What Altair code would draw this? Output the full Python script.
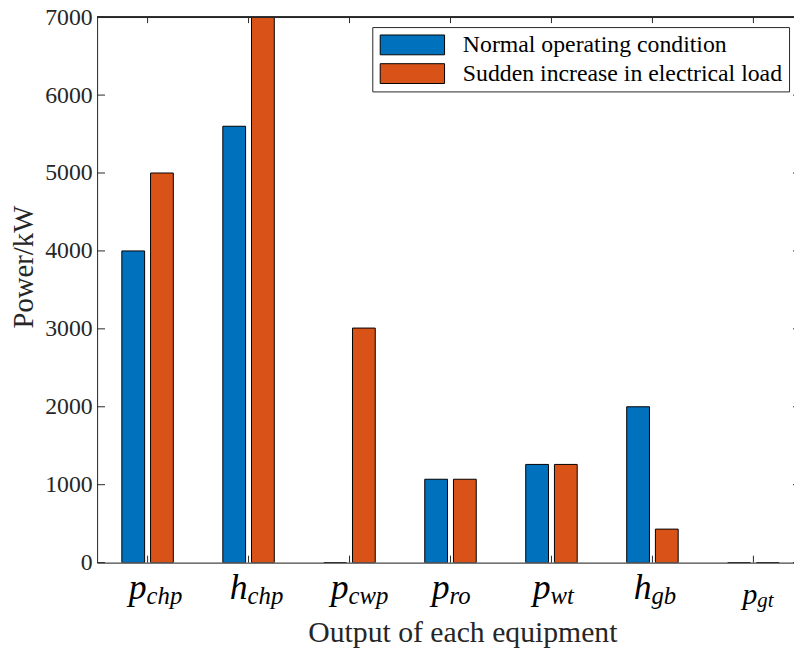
import altair as alt
import pandas as pd

categories = ["p_chp", "h_chp", "p_cwp", "p_ro", "p_wt", "h_gb", "p_gt"]
main_letters = ["p", "h", "p", "p", "p", "h", "p"]
subscripts = ["chp", "chp", "cwp", "ro", "wt", "gb", "gt"]
series_names = ["Normal operating condition", "Sudden increase in electrical load"]
normal = [4000, 5600, 0, 1070, 1260, 2000, 0]
sudden = [5000, 7000, 3010, 1070, 1260, 430, 0]
y_ticks = [0, 1000, 2000, 3000, 4000, 5000, 6000, 7000]
colors = ["#0072BD", "#D95319"]

FONT = "Liberation Serif"
AX = "#262626"
W, H = 704, 551
FULL_W = 711

rows = []
for c, a, b in zip(categories, normal, sudden):
    rows.append({"category": c, "series": series_names[0], "value": a})
    rows.append({"category": c, "series": series_names[1], "value": b})
df = pd.DataFrame(rows)
lab = pd.DataFrame({"category": categories, "main": main_letters, "sub": subscripts})
yt = pd.DataFrame({"value": y_ticks})
xt = pd.DataFrame({"category": categories})

xscale = alt.Scale(domain=categories, range=[0, 714], paddingInner=0, paddingOuter=0)
yscale = alt.Scale(domain=[0, 7000], nice=False, zero=True)

x_axis = alt.Axis(labels=False, ticks=False, domainColor=AX, domainWidth=1,
                  titleFontSize=30, titleFontWeight="normal", titleColor=AX,
                  titleX=369, titleY=80, titleBaseline="alphabetic",
                  titleAlign="center", grid=False)
y_axis = alt.Axis(values=y_ticks, format="d", ticks=False, grid=False,
                  labelFontSize=24, labelColor=AX, labelPadding=5,
                  domainColor=AX, domainWidth=1,
                  titleFontSize=29, titleFontWeight="normal", titleColor=AX,
                  titleX=-65, titleY=252, titleBaseline="alphabetic",
                  titleAlign="center")

X = lambda: alt.X("category:N", sort=categories, scale=xscale, axis=x_axis, title="Output of each equipment")
Y = lambda: alt.Y("value:Q", scale=yscale, axis=y_axis, title="Power/kW")

bars = alt.Chart(df).mark_bar(stroke="black", strokeWidth=1, clip=True).encode(
    x=X(),
    xOffset=alt.XOffset("series:N", sort=series_names,
                        scale=alt.Scale(paddingInner=0.2069, paddingOuter=0.862)),
    y=Y(),
    color=alt.Color("series:N", sort=series_names,
                    scale=alt.Scale(domain=series_names, range=colors),
                    legend=alt.Legend(title=None, orient="none", legendX=278, legendY=10,
                                      symbolType="M-3.25,-1H3.25V1H-3.25Z",
                                      symbolSize=400, symbolOffset=22.5,
                                      symbolStrokeColor="black",
                                      symbolStrokeWidth=1, symbolOpacity=1,
                                      labelFontSize=24,
                                      labelColor="black", labelLimit=500,
                                      labelOffset=39, strokeColor=AX,
                                      fillColor="white", padding=6, rowPadding=5)),
)

ytick_left = alt.Chart(yt).mark_rule(color=AX, strokeWidth=1).encode(
    y=Y(), x=alt.value(0), x2=alt.value(8))
ytick_right = alt.Chart(yt).mark_rule(color=AX, strokeWidth=1).encode(
    y=Y(), x=alt.value(FULL_W - 8), x2=alt.value(FULL_W))
xtick_bottom = alt.Chart(xt).mark_rule(color=AX, strokeWidth=1).encode(
    x=X(), y=alt.value(H - 7), y2=alt.value(H))
xtick_top = alt.Chart(xt).mark_rule(color=AX, strokeWidth=1).encode(
    x=X(), y=alt.value(0), y2=alt.value(6))
top_border = alt.Chart(xt).mark_rule(color=AX, strokeWidth=1).encode(
    y=alt.value(0), x=alt.value(0), x2=alt.value(FULL_W))

def label_layer(flt, field, align, size, dx, ypix):
    return alt.Chart(lab).transform_filter(flt).mark_text(
        align=align, baseline="alphabetic", font=FONT, fontStyle="italic",
        fontSize=size, dx=dx, color="black").encode(
        x=X(), y=alt.value(ypix), text=f"{field}:N")

not_gt = alt.datum.category != "p_gt"
is_gt = alt.datum.category == "p_gt"
lab_main = label_layer(not_gt, "main", "right", 36, -1, H + 37)
lab_sub = label_layer(not_gt, "sub", "left", 25, -1, H + 42)
lab_main_gt = label_layer(is_gt, "main", "right", 30, 4, H + 42)
lab_sub_gt = label_layer(is_gt, "sub", "left", 21, 4, H + 45)

chart = alt.layer(
    bars, ytick_left, ytick_right, xtick_bottom, xtick_top, top_border,
    lab_main, lab_sub, lab_main_gt, lab_sub_gt
).properties(
    width=W, height=H,
    autosize=alt.AutoSizeParams(type="none"),
    padding={"left": 90, "top": 6, "right": 0, "bottom": 84},
).configure_view(stroke=None).configure(font=FONT).configure_axis(
    labelFont=FONT, titleFont=FONT
).configure_legend(labelFont=FONT).configure_text(font=FONT)

chart.save("out.html", embed_options={"renderer": "svg", "actions": False})
